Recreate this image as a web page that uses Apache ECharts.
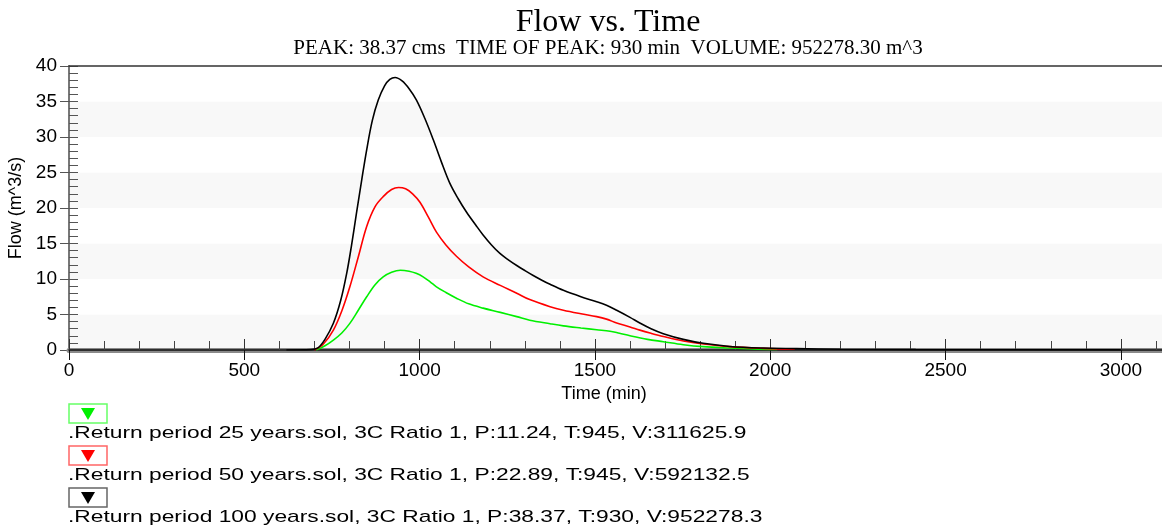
<!DOCTYPE html>
<html><head><meta charset="utf-8">
<script src="https://cdn.jsdelivr.net/npm/echarts@6/dist/echarts.min.js"></script>
<style>html,body{margin:0;padding:0;background:#fff}#c{width:1162px;height:526px}</style>
</head><body><div id="c"></div>
<script>
// ---- text ----
const titleText = 'Flow vs. Time';
const subtitleText = 'PEAK: 38.37 cms  TIME OF PEAK: 930 min  VOLUME: 952278.30 m^3';
const yAxisName = 'Flow (m^3/s)';
const xAxisName = 'Time (min)';

// ---- legend info ----
const periods = [25, 50, 100];
const peakFlows = ['11.24', '22.89', '38.37'];
const peakTimes = [945, 945, 930];
const volumes = ['311625.9', '592132.5', '952278.3'];
const seriesColors = ['#00f000', '#ff0000', '#000000'];
const boxBorders = ['#66ff66', '#ff6666', '#666666'];

// ---- series data (time in min, flow in m^3/s) ----
const t25 = [705, 730, 754, 778, 801, 825, 849, 873, 896, 920, 945, 970, 990, 1010, 1030, 1048, 1075, 1105, 1140, 1181, 1230, 1277, 1314, 1372, 1410, 1460, 1505, 1543, 1570, 1600, 1650, 1695, 1752, 1809, 1885, 1950, 2020];
const q25 = [0, 0.6, 1.4, 2.4, 3.75, 5.6, 7.5, 9.2, 10.3, 10.95, 11.24, 11.1, 10.8, 10.3, 9.6, 8.9, 8.1, 7.3, 6.5, 5.9, 5.3, 4.7, 4.2, 3.7, 3.4, 3.1, 2.85, 2.65, 2.35, 2.0, 1.5, 1.17, 0.75, 0.47, 0.28, 0.15, 0.08];

const t50 = [700, 725, 754, 778, 801, 825, 849, 873, 896, 920, 940, 960, 980, 1001, 1025, 1048, 1075, 1105, 1140, 1181, 1230, 1277, 1314, 1372, 1410, 1460, 1505, 1533, 1562, 1600, 1628, 1660, 1695, 1752, 1809, 1885, 1980, 2070];
const q50 = [0, 0.8, 2.8, 5.5, 8.9, 13.1, 17.4, 20.2, 21.6, 22.6, 22.89, 22.7, 22.0, 20.8, 18.7, 16.6, 14.8, 13.2, 11.7, 10.3, 9.1, 8.0, 7.1, 6.1, 5.6, 5.1, 4.7, 4.35, 3.8, 3.25, 2.8, 2.35, 1.9, 1.27, 0.85, 0.47, 0.23, 0.1];

const t100 = [620, 690, 710, 730, 754, 775, 792, 805, 820, 835, 849, 865, 882, 900, 915, 930, 950, 970, 991, 1015, 1039, 1062, 1086, 1110, 1134, 1160, 1181, 1205, 1229, 1253, 1277, 1300, 1324, 1350, 1372, 1410, 1460, 1505, 1533, 1562, 1600, 1628, 1660, 1695, 1752, 1809, 1885, 1980, 2075, 2200, 2415, 3000];
const q100 = [0, 0.05, 0.3, 1.5, 3.76, 7.0, 10.8, 14.5, 19.3, 24.0, 28.2, 32.3, 35.2, 37.2, 38.1, 38.37, 37.9, 36.8, 35.2, 32.6, 29.6, 26.5, 23.5, 21.3, 19.4, 17.6, 16.2, 14.8, 13.6, 12.7, 11.9, 11.2, 10.5, 9.8, 9.25, 8.4, 7.5, 6.8, 6.3, 5.6, 4.6, 3.8, 3.0, 2.3, 1.5, 0.94, 0.5, 0.28, 0.2, 0.1, 0.05, 0.02];

const seriesTimes = [t25, t50, t100];
const seriesFlows = [q25, q50, q100];

const legendLabels = periods.map((p, i) =>
  '.Return period ' + p + ' years.sol, 3C Ratio 1, P:' + peakFlows[i] + ', T:' + peakTimes[i] + ', V:' + volumes[i]);

const SANS = '"Liberation Sans", Arial, sans-serif';
const SERIF = '"Liberation Serif", "Times New Roman", serif';

const chart = echarts.init(document.getElementById('c'), null, {renderer: 'canvas'});

const series = seriesTimes.map((ts, k) => ({
  type: 'line',
  xAxisIndex: 0,
  yAxisIndex: 0,
  data: ts.map((t, i) => [t, seriesFlows[k][i]]),
  showSymbol: false,
  smooth: 0.35,
  lineStyle: {color: seriesColors[k], width: 1.6},
  itemStyle: {color: seriesColors[k]},
  z: 3,
  animation: false
}));

const graphics = [
  {type: 'text', x: 608, y: 23, style: {text: titleText, font: '32px ' + SERIF, fill: '#000', align: 'center', verticalAlign: 'middle'}},
  {type: 'text', x: 608, y: 48, style: {text: subtitleText, font: '21px ' + SERIF, fill: '#000', align: 'center', verticalAlign: 'middle'}}
];
legendLabels.forEach((lab, i) => {
  const y0 = 404 + 42 * i;
  graphics.push({
    type: 'rect', shape: {x: 69, y: y0, width: 38, height: 19},
    style: {fill: '#fff', stroke: boxBorders[i], lineWidth: 1.5}
  });
  graphics.push({
    type: 'polygon', shape: {points: [[81, y0 + 4], [95, y0 + 4], [88, y0 + 16]]},
    style: {fill: seriesColors[i]}
  });
  graphics.push({
    type: 'text', x: 68, y: y0 + 29, scaleX: 1.34, originX: 0, originY: 0,
    style: {text: lab, font: '17px ' + SANS, fill: '#000', verticalAlign: 'middle', align: 'left'}
  });
});

const axisBase = {type: 'value', min: 0, max: 3200, interval: 500, position: 'bottom'};
const plain = v => String(v);

chart.setOption({
  animation: false,
  backgroundColor: '#fff',
  grid: {left: 69, right: -29, top: 66, bottom: 176, outerBoundsMode: 'none', containLabel: false, show: false},
  xAxis: [
    Object.assign({}, axisBase, {
      axisLine: {show: true, lineStyle: {color: '#111', width: 1.5}},
      axisTick: {show: true, inside: true, length: 11, lineStyle: {color: '#333'}},
      minorTick: {show: true, splitNumber: 5, length: 9, lineStyle: {color: '#444'}},
      axisLabel: {fontFamily: SANS, fontSize: 19, color: '#000', margin: 11, formatter: plain},
      splitLine: {show: false},
      name: xAxisName, nameLocation: 'middle', nameGap: 33,
      nameTextStyle: {fontFamily: SANS, fontSize: 18, color: '#000', padding: [0, 52, 0, 0]},
      z: 2
    }),
    Object.assign({}, axisBase, {
      offset: 3,
      axisLine: {show: true, lineStyle: {color: '#8a8a8a', width: 5}},
      axisTick: {show: false}, axisLabel: {show: false}, splitLine: {show: false},
      z: 1
    }),
    Object.assign({}, axisBase, {
      axisLine: {show: false},
      axisTick: {show: true, inside: false, length: 10, lineStyle: {color: '#111'}},
      axisLabel: {show: false}, splitLine: {show: false},
      z: 2
    }),
    Object.assign({}, axisBase, {
      position: 'top',
      axisLine: {show: true, lineStyle: {color: '#333', width: 1.5}},
      axisTick: {show: false}, axisLabel: {show: false}, splitLine: {show: false},
      z: 2
    })
  ],
  yAxis: [
    {
      type: 'value', min: 0, max: 40, interval: 5, position: 'left',
      axisLine: {show: true, lineStyle: {color: '#777', width: 2}},
      axisTick: {show: true, inside: false, length: 9, lineStyle: {color: '#555'}},
      axisLabel: {fontFamily: SANS, fontSize: 19, color: '#000', margin: 12},
      splitLine: {show: false},
      splitArea: {show: true, areaStyle: {color: ['#f8f8f8', '#ffffff']}},
      name: yAxisName, nameLocation: 'middle', nameGap: 40,
      nameTextStyle: {fontFamily: SANS, fontSize: 18, color: '#000'}
    },
    {
      type: 'value', min: 0, max: 40, interval: 1, position: 'left',
      axisLine: {show: false},
      axisTick: {show: true, inside: true, length: 9, lineStyle: {color: '#555'}},
      axisLabel: {show: false}, splitLine: {show: false}, splitArea: {show: false}
    }
  ],
  series: series,
  graphic: graphics
});
</script>
</body></html>
